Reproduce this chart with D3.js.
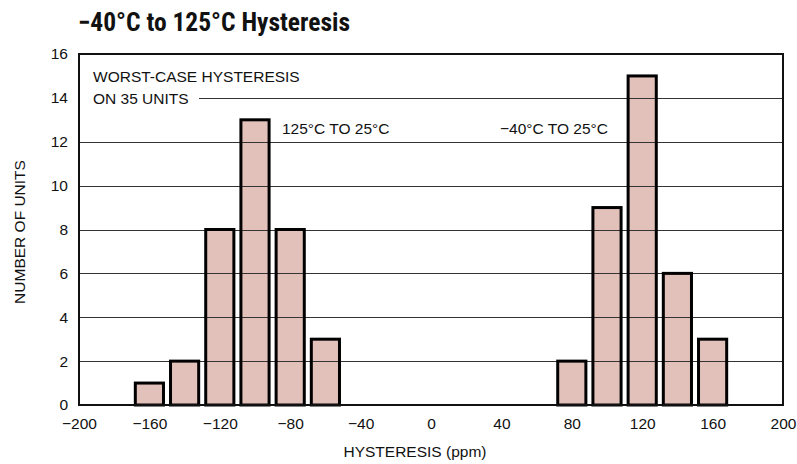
<!DOCTYPE html>
<html><head><meta charset="utf-8">
<script src="https://cdn.jsdelivr.net/npm/d3@7"></script>
<style>
body{margin:0;background:#fff;}
text{font-family:"Liberation Sans",Arial,sans-serif;}
</style></head>
<body><svg id="c" width="797" height="464"></svg>
<script>
const binCenters = [-160,-140,-120,-100,-80,-60,80,100,120,140,160];
const counts     = [1,2,8,13,8,3,2,9,15,6,3];
const xTicks = [-200,-160,-120,-80,-40,0,40,80,120,160,200];
const yTicks = [0,2,4,6,8,10,12,14,16];
const binWidth = 16;
const title = "\u221240\u00b0C to 125\u00b0C Hysteresis";

const svg = d3.select("#c");
const L=79,R=783,T=54,B=405;
const x = d3.scaleLinear().domain([-200,200]).range([L,R]);
const y = d3.scaleLinear().domain([0,16]).range([B,T]);
const data = binCenters.map((c,i)=>({c,n:counts[i]}));
const FS = 15.5;

// bar fills
svg.append("g").selectAll("rect").data(data).join("rect")
  .attr("x",d=>x(d.c-binWidth/2)).attr("width",d=>x(d.c+binWidth/2)-x(d.c-binWidth/2))
  .attr("y",d=>y(d.n)).attr("height",d=>y(0)-y(d.n))
  .attr("fill","#e3c1bb");

// gridlines
const g = svg.append("g");
yTicks.filter(v=>v>0&&v<16).forEach(v=>{
  const x0 = v===14 ? 199 : L;
  g.append("line").attr("x1",x0).attr("x2",R).attr("y1",Math.round(y(v))+0.5).attr("y2",Math.round(y(v))+0.5)
   .attr("stroke","#333").attr("stroke-width",1);
});

// bar outlines
svg.append("g").selectAll("rect").data(data).join("rect")
  .attr("x",d=>x(d.c-binWidth/2)).attr("width",d=>x(d.c+binWidth/2)-x(d.c-binWidth/2))
  .attr("y",d=>y(d.n)).attr("height",d=>y(0)-y(d.n))
  .attr("fill","none").attr("stroke","#000").attr("stroke-width",3);

// frame
svg.append("rect").attr("x",L).attr("y",T).attr("width",R-L).attr("height",B-T)
  .attr("fill","none").attr("stroke","#111").attr("stroke-width",2);

// axes
const fmt = d=> d<0 ? "\u2212"+Math.abs(d) : String(d);
const xa = svg.append("g").attr("transform",`translate(0,${B})`)
  .call(d3.axisBottom(x).tickValues(xTicks).tickSize(0).tickPadding(13).tickFormat(fmt));
xa.select(".domain").remove();
xa.selectAll("text").attr("font-size",FS).attr("fill","#111").attr("font-family","Liberation Sans, Arial, sans-serif");
const ya = svg.append("g").attr("transform",`translate(${L},0)`)
  .call(d3.axisLeft(y).tickValues(yTicks).tickSize(0).tickPadding(11).tickFormat(fmt));
ya.select(".domain").remove();
ya.selectAll("text").attr("font-size",FS).attr("fill","#111").attr("font-family","Liberation Sans, Arial, sans-serif");

// titles
svg.append("text").attr("x",78).attr("y",31).attr("font-size",25.5).attr("font-weight","bold").attr("fill","#111")
  .style("font-family","'Liberation Sans Narrow','Roboto Condensed','Liberation Sans',sans-serif").text(title);
svg.append("text").attr("x",415).attr("y",457).attr("text-anchor","middle").attr("font-size",FS).attr("fill","#111").text("HYSTERESIS (ppm)");
svg.append("text").attr("transform",`translate(25,${232}) rotate(-90)`).attr("text-anchor","middle").attr("font-size",FS).attr("fill","#111").text("NUMBER OF UNITS");

// annotations
const ann = [["WORST-CASE HYSTERESIS",93,82],["ON 35 UNITS",93,104],["125\u00b0C TO 25\u00b0C",282,134],["\u221240\u00b0C TO 25\u00b0C",500,134]];
svg.append("g").selectAll("text").data(ann).join("text")
  .attr("x",d=>d[1]).attr("y",d=>d[2]).attr("font-size",FS).attr("fill","#111").text(d=>d[0]);
</script></body></html>
